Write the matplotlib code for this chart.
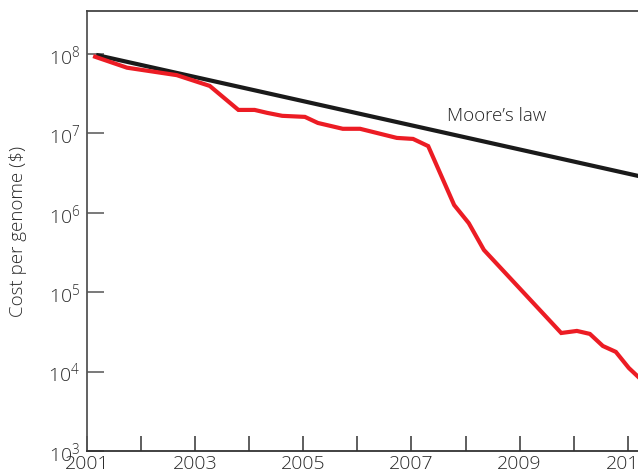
import numpy as np
import matplotlib.pyplot as plt
from matplotlib.ticker import FixedLocator, FixedFormatter

plt.rcParams['font.family'] = ['Open Sans', 'DejaVu Sans']
plt.rcParams['font.weight'] = 'light'
plt.rcParams['axes.labelweight'] = 'light'
plt.rcParams['mathtext.fontset'] = 'custom'
plt.rcParams['mathtext.rm'] = 'Open Sans:light'
plt.rcParams['mathtext.it'] = 'Open Sans:light'

# sequencing cost per genome
seq_years = [2001.15, 2001.74, 2002.66, 2003.27, 2003.80, 2004.10, 2004.33, 2004.61,
             2005.03, 2005.27, 2005.73, 2006.05, 2006.73, 2007.03, 2007.31, 2007.79,
             2008.06, 2008.34, 2009.77, 2010.06, 2010.30, 2010.54, 2010.78, 2011.02,
             2011.25]
seq_cost = [9.2e7, 6.7e7, 5.4e7, 3.95e7, 1.97e7, 1.97e7, 1.81e7, 1.66e7,
            1.61e7, 1.35e7, 1.14e7, 1.14e7, 8.75e6, 8.5e6, 6.9e6, 1.25e6,
            7.4e5, 3.4e5, 3.06e4, 3.25e4, 2.98e4, 2.1e4, 1.77e4, 1.11e4,
            7.9e3]

# Moore's law reference line
moore_years = [2001.17, 2011.25]
moore_cost = [9.7e7, 2.85e6]

year_ticks = list(range(2001, 2012))
year_labels = [str(y) if y % 2 == 1 else '' for y in year_ticks]
cost_ticks = [1e3, 1e4, 1e5, 1e6, 1e7, 1e8]
cost_labels = [r'$\mathregular{10^{%d}}$' % np.log10(c) for c in cost_ticks]

fig = plt.figure(figsize=(6.38, 4.75), dpi=100)
ax = fig.add_axes([87 / 638, 1 - 451 / 475, 1 - 87 / 638, (451 - 11) / 475])

ax.plot(moore_years, moore_cost, color='#1a1a1a', lw=3.0, solid_capstyle='butt', zorder=2)
ax.plot(seq_years, seq_cost, color='#ec1c24', lw=3.0, solid_joinstyle='miter', zorder=3)

ax.set_yscale('log')
ax.set_xlim(2001, 2011.19)
ax.set_ylim(1e3, 10 ** 8.54)

ax.xaxis.set_major_locator(FixedLocator(year_ticks))
ax.xaxis.set_major_formatter(FixedFormatter(year_labels))
ax.yaxis.set_major_locator(FixedLocator(cost_ticks))
ax.yaxis.set_major_formatter(FixedFormatter(cost_labels))
ax.yaxis.set_minor_locator(FixedLocator([]))

ax.tick_params(axis='x', direction='in', length=11, width=1.1, color='#333333',
               labelsize=14, labelcolor='#2a2a2a', pad=3)
ax.tick_params(axis='y', direction='in', length=12, width=1.1, color='#555555',
               labelsize=14, labelcolor='#2a2a2a', pad=5)

ax.spines['right'].set_visible(False)
ax.spines['left'].set_color('#555555')
ax.spines['bottom'].set_color('#333333')
ax.spines['top'].set_color('#444444')
for s in ax.spines.values():
    s.set_linewidth(1.3)

ax.set_ylabel('Cost per genome ($)', fontsize=13.5, color='#2a2a2a', fontweight='light')
ax.yaxis.set_label_coords(-0.108, 0.5)

ax.text(2008.57, 10 ** 7.22, 'Moore\u2019s law', fontsize=13.5, color='#222222',
        ha='center', va='center')

fig.savefig('out.png', dpi=100)
